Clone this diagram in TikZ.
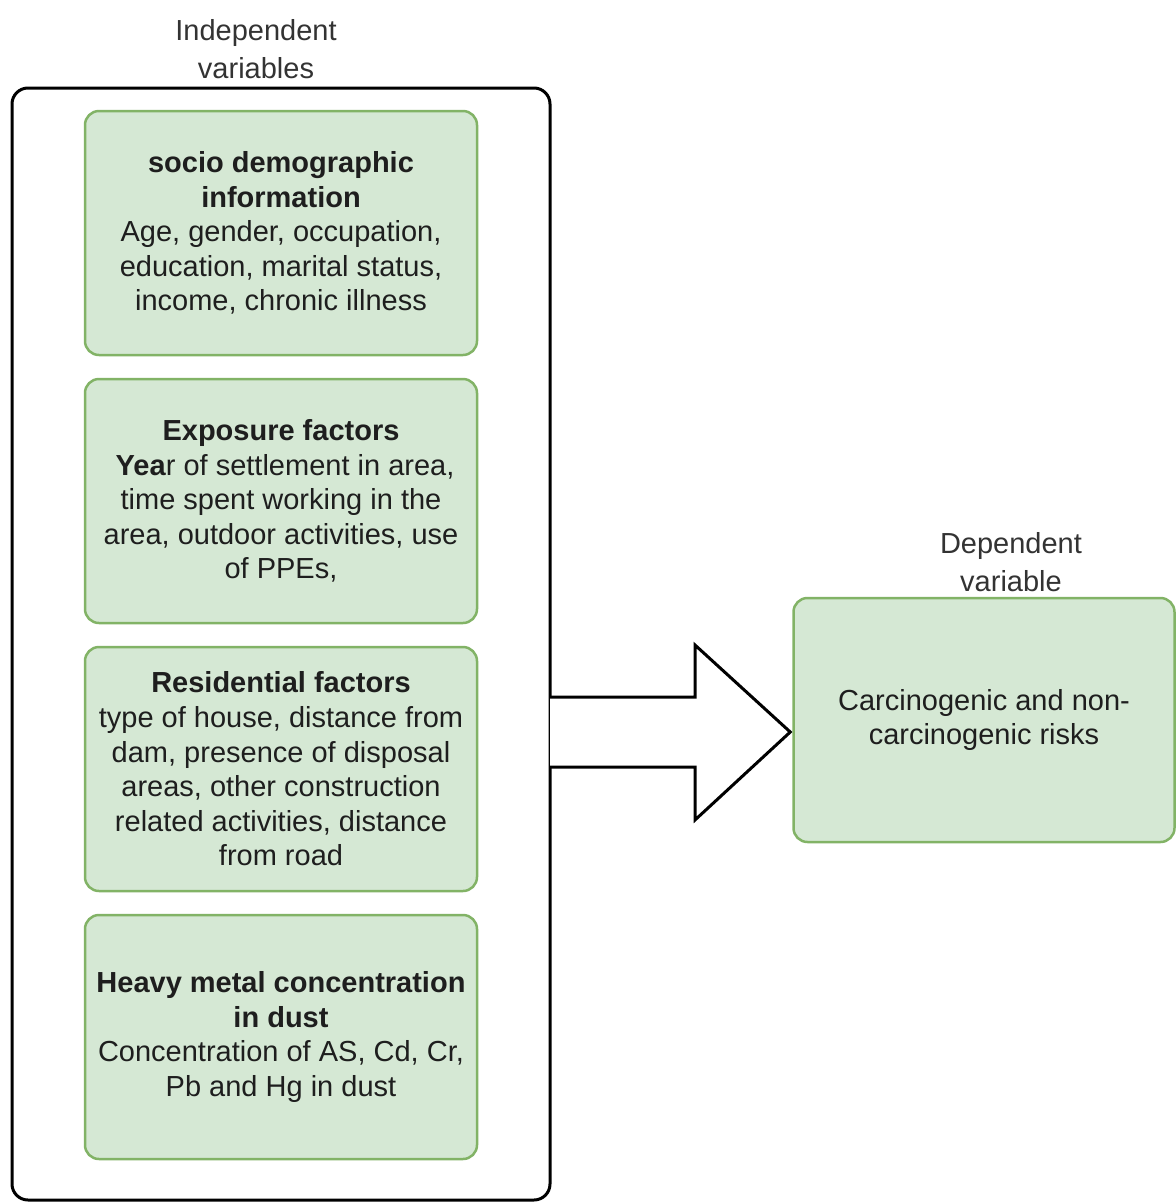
\documentclass[tikz,border=0pt]{standalone}
\usepackage{fontspec}
\setmainfont{Liberation Sans}
\usetikzlibrary{calc}
\definecolor{gfill}{HTML}{D5E8D4}
\definecolor{gline}{HTML}{82B366}
\definecolor{txt}{HTML}{1E1E1E}
\definecolor{lbl}{HTML}{333333}
\tikzset{
  gbox/.style={draw=gline, fill=gfill, line width=2.5pt, rounded corners=14pt,
    minimum width=392pt, minimum height=244pt, inner sep=0pt, align=center,
    text=txt, font=\fontsize{29}{34.6}\selectfont},
  outerbox/.style={draw=black, line width=3pt, rounded corners=16pt, fill=none},
  lbltext/.style={align=center, text=lbl, font=\fontsize{29}{38}\selectfont, inner sep=0pt},
  bigarrow/.style={draw=black, line width=3pt, fill=white, line join=miter}
}
\begin{document}
\begin{tikzpicture}[x=1pt,y=-1pt]
\useasboundingbox (0,0) rectangle (1176,1203);
% outer container
\draw[outerbox] (12,88) rectangle (550,1200);
\coordinate (outerE) at (550,732);
% labels
\node[lbltext] (lin) at (256,49) {Independent\\variables};
\node[lbltext] (ldep) at (1011,562) {Dependent\\variable};
% green boxes
\node[gbox] (b1) at (281,233) {\textbf{socio demographic}\\\textbf{information}\\Age, gender, occupation,\\education, marital status,\\income, chronic illness};
\node[gbox] (b2) at (281,501) {\textbf{Exposure factors}\\\ \textbf{Yea}r of settlement in area,\\time spent working in the\\area, outdoor activities, use\\of PPEs,};
\node[gbox] (b3) at (281,769) {\textbf{Residential factors}\\type of house, distance from\\dam, presence of disposal\\areas, other construction\\related activities, distance\\from road};
\node[gbox] (b4) at (281,1037) {\textbf{Heavy metal concentration}\\\textbf{in dust}\\Concentration of AS, Cd, Cr,\\Pb and Hg in dust};
\node[gbox, minimum width=381pt, minimum height=244pt] (rb) at (984,720) {Carcinogenic and non-\\carcinogenic risks};
% big arrow from container to dependent box
\draw[bigarrow] (outerE |- 0,697) -- (695,697) -- (695,645) -- ($(rb.west)+(-2,12)$) -- (695,820) -- (695,767) -- (outerE |- 0,767);
\end{tikzpicture}
\end{document}
